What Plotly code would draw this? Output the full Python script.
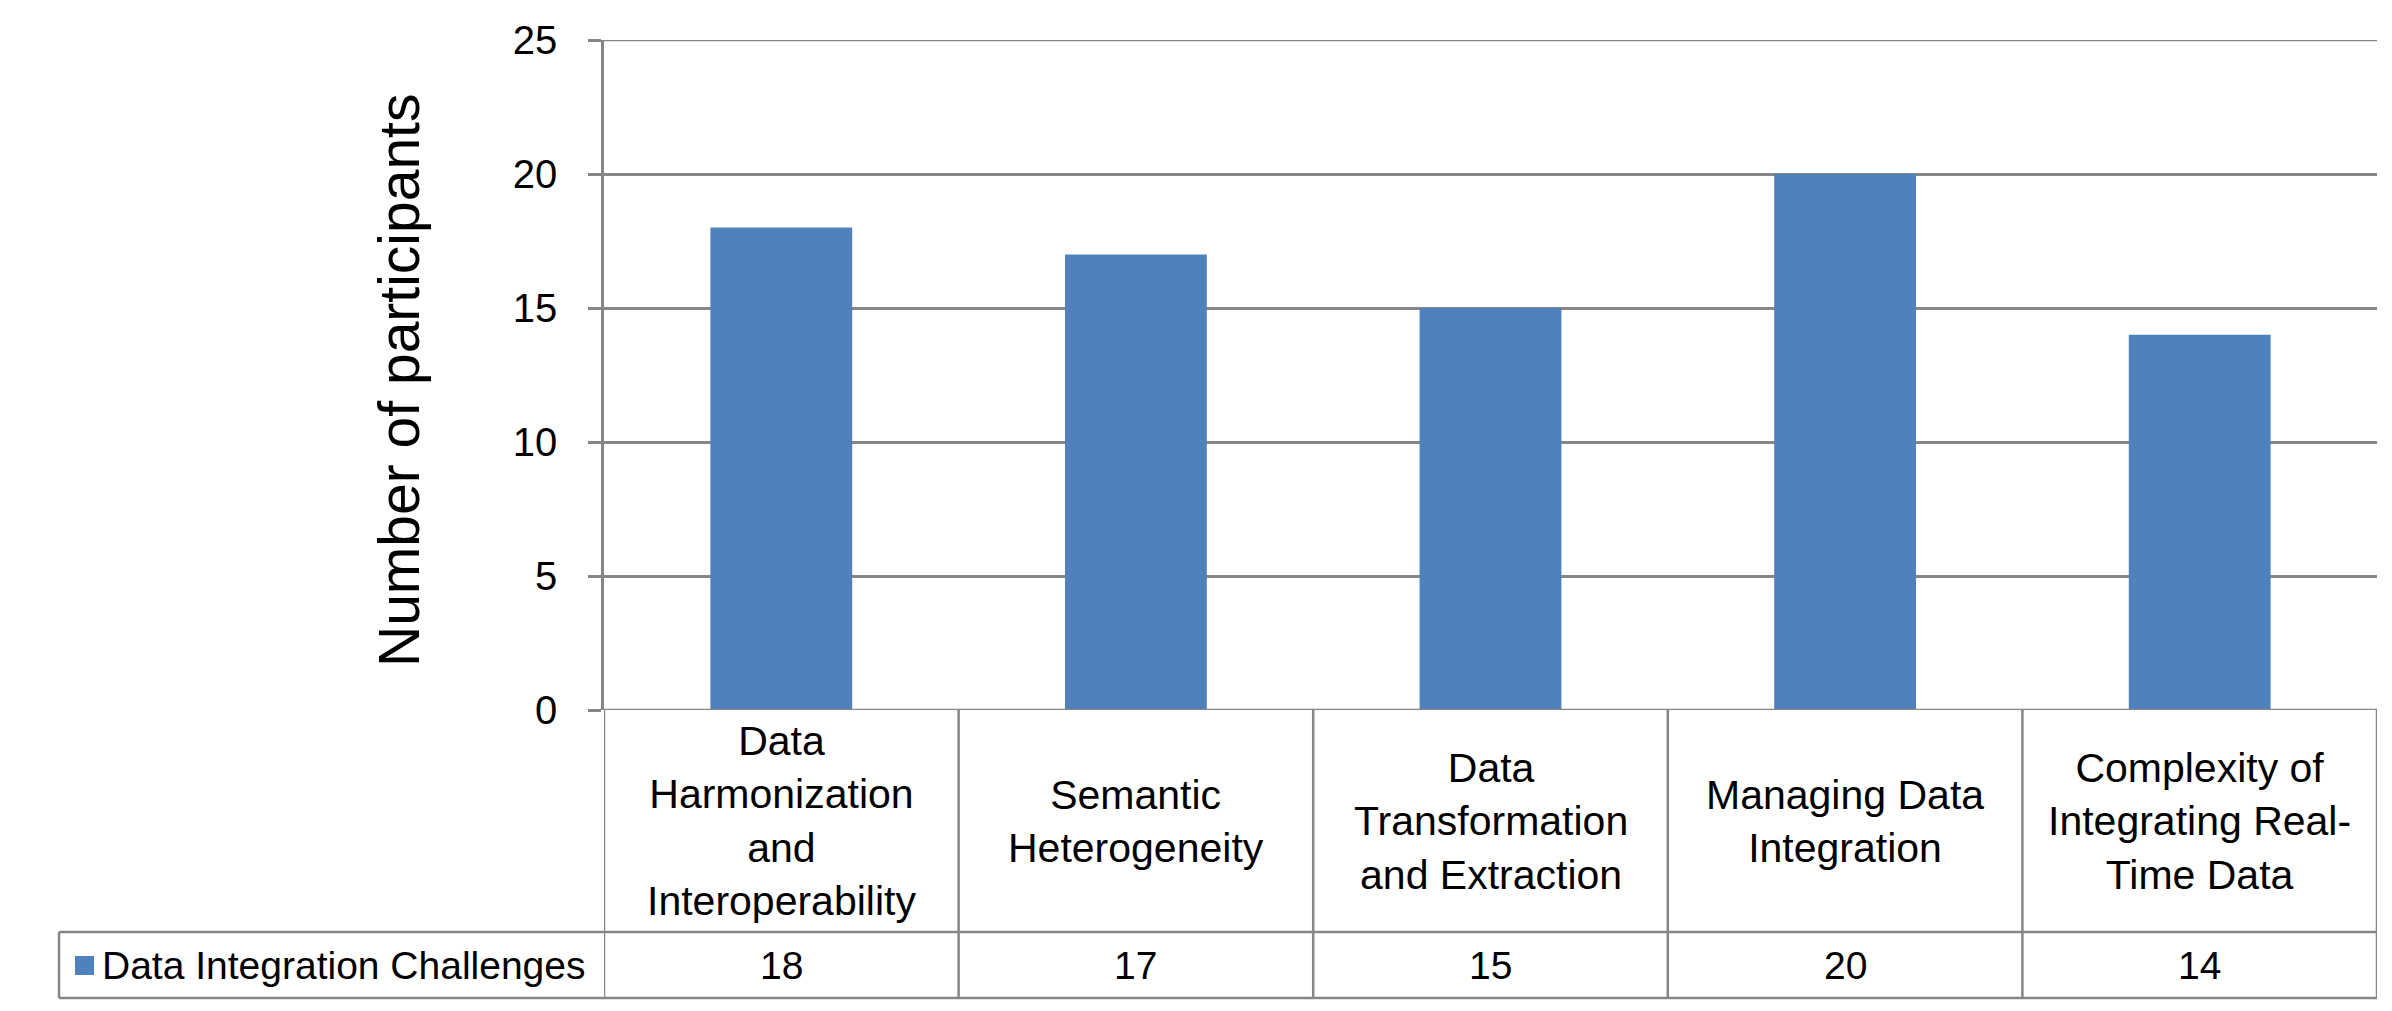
import plotly.graph_objects as go

# ---- data ----
categories = [
    "Data Harmonization and Interoperability",
    "Semantic Heterogeneity",
    "Data Transformation and Extraction",
    "Managing Data Integration",
    "Complexity of Integrating Real-Time Data",
]
category_labels = [
    "Data<br>Harmonization<br>and<br>Interoperability",
    "Semantic<br>Heterogeneity",
    "Data<br>Transformation<br>and Extraction",
    "Managing Data<br>Integration",
    "Complexity of<br>Integrating Real-<br>Time Data",
]
series_name = "Data Integration Challenges"
values = [18, 17, 15, 20, 14]
y_ticks = [0, 5, 10, 15, 20, 25]
y_title = "Number of participants"

# ---- layout constants ----
PAGE_OFF = 8                      # default body margin of the html page
W, H = 2392 - 2 * PAGE_OFF, 1011 - 2 * PAGE_OFF
FONT = "Liberation Sans, Arial, sans-serif"
GRID = "#868686"
BAR = "#4F81BD"
TXT = "#000000"

# page pixel positions of the chart frame
x0_px, x1_px = 604, 2377
ytop_px, y0_px = 40, 710
row1_px, row2_px = 932, 998
table_left_px = 59


def px_x(p):
    return (p - PAGE_OFF) / W


def px_y(p):
    return (H - (p - PAGE_OFF)) / H


n = len(categories)
fig = go.Figure()
fig.add_trace(go.Bar(
    x=list(range(n)), y=values, name=series_name,
    marker=dict(color=BAR, line=dict(width=0)),
    width=0.4, showlegend=False,
))

fig.update_layout(
    width=W, height=H,
    margin=dict(l=0, r=0, t=0, b=0, autoexpand=False),
    paper_bgcolor="white", plot_bgcolor="white",
    font=dict(family=FONT, size=38, color=TXT),
    xaxis=dict(
        domain=[px_x(x0_px), px_x(x1_px)],
        range=[-0.5, n - 0.5], automargin=False,
        showticklabels=False, showgrid=False, zeroline=False,
        showline=False, ticks="",
    ),
    yaxis=dict(
        domain=[px_y(y0_px), px_y(ytop_px)],
        range=[0, 25], tickvals=y_ticks, automargin=False,
        ticks="outside", ticklen=13, tickwidth=2.5, tickcolor=GRID,
        showgrid=True, gridcolor=GRID, gridwidth=2.5,
        zeroline=False, showline=True, linecolor=GRID, linewidth=2.5,
        tickfont=dict(family=FONT, size=40, color=TXT),
        ticklabelstandoff=23,
    ),
    bargap=0.6,
)

shapes = []
line = dict(color=GRID, width=2.5)
# top gridline (value 25) drawn explicitly so it is not clipped at the plot edge
shapes.append(dict(type="line", xref="paper", yref="y",
                   x0=px_x(x0_px), x1=px_x(x1_px), y0=y_ticks[-1], y1=y_ticks[-1], line=line))
# x axis line / top of table
shapes.append(dict(type="line", xref="paper", yref="y",
                   x0=px_x(x0_px), x1=px_x(x1_px), y0=0, y1=0, line=line))
# row separator and bottom
for yy in (row1_px, row2_px):
    shapes.append(dict(type="line", xref="paper", yref="paper",
                       x0=px_x(table_left_px), x1=px_x(x1_px), y0=px_y(yy), y1=px_y(yy), line=line))
# left edge of legend cell
shapes.append(dict(type="line", xref="paper", yref="paper",
                   x0=px_x(table_left_px), x1=px_x(table_left_px),
                   y0=px_y(row1_px), y1=px_y(row2_px), line=line))
# column separators
for i in range(n + 1):
    shapes.append(dict(type="line", xref="x", yref="paper",
                       x0=i - 0.5, x1=i - 0.5, y0=px_y(y0_px), y1=px_y(row2_px), line=line))
# legend key
shapes.append(dict(type="rect", xref="paper", yref="paper",
                   x0=px_x(75), x1=px_x(94), y0=px_y(975), y1=px_y(956),
                   fillcolor=BAR, line=dict(width=0)))

annotations = []
for i, lab in enumerate(category_labels):
    annotations.append(dict(x=i, y=px_y((y0_px + row1_px) / 2), xref="x", yref="paper",
                            text=lab, showarrow=False, align="center",
                            xanchor="center", yanchor="middle",
                            font=dict(family=FONT, size=41, color=TXT)))
for i, v in enumerate(values):
    annotations.append(dict(x=i, y=px_y((row1_px + row2_px) / 2), xref="x", yref="paper",
                            text=str(v), showarrow=False,
                            xanchor="center", yanchor="middle",
                            font=dict(family=FONT, size=39, color=TXT)))
annotations.append(dict(x=px_x(100), y=px_y((row1_px + row2_px) / 2), xref="paper", yref="paper",
                        text=series_name, showarrow=False,
                        xanchor="left", yanchor="middle",
                        font=dict(family=FONT, size=39, color=TXT)))
annotations.append(dict(x=px_x(399), y=px_y(380), xref="paper", yref="paper",
                        text=y_title, showarrow=False, textangle=-90,
                        xanchor="center", yanchor="middle",
                        font=dict(family=FONT, size=57, color=TXT)))

fig.update_layout(shapes=shapes, annotations=annotations)
fig.write_html("out.html")
